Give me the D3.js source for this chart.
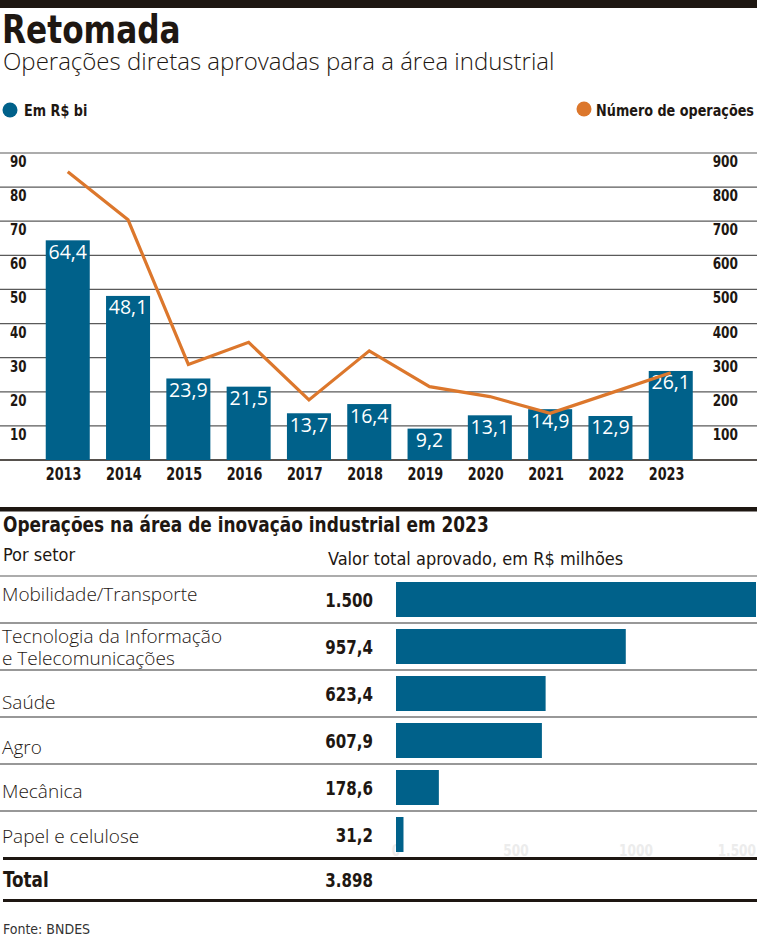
<!DOCTYPE html>
<html><head><meta charset="utf-8">
<script src="https://cdn.jsdelivr.net/npm/d3@7"></script>
<style>
html,body{margin:0;padding:0;background:#fff;}
svg{display:block;}
text{fill:#1e1712;}
.cond{font-family:'DejaVu Sans Condensed','DejaVu Sans',sans-serif;}
.reg{font-family:'Open Sans','Noto Sans',sans-serif;}
</style></head>
<body>
<svg id="c" width="757" height="938"></svg>
<script>
// ---- data ----
const years = ["2013","2014","2015","2016","2017","2018","2019","2020","2021","2022","2023"];
const valores = [64.4,48.1,23.9,21.5,13.7,16.4,9.2,13.1,14.9,12.9,26.1];
const operacoes = [845,704,280,345,176,320,215,186,137,196,256];
const leftTicks = [10,20,30,40,50,60,70,80,90];
const rightTicks = [100,200,300,400,500,600,700,800,900];

const setores = [["Mobilidade/Transporte"],["Tecnologia da Informação","e Telecomunicações"],["Saúde"],["Agro"],["Mecânica"],["Papel e celulose"]];
const setorValores = [1500,957.4,623.4,607.9,178.6,31.2];
const setorLabels = ["1.500","957,4","623,4","607,9","178,6","31,2"];
const totalLabel = "3.898";
const xTicks = [0,500,1000,1500];
const xTickLabels = ["0","500","1000","1.500"];

// ---- style / layout ----
const BLUE = "#00618a", ORANGE = "#dc772c", DARK = "#1e1712", GRID = "#5a5a5a";
const W = 757;
const svg = d3.select("#c");
const fmt = v => String(v).replace(".", ",");
const tr = (x,y,k) => `translate(${x},${y}) scale(${k},1)`;

// header
svg.append("rect").attr("x",0).attr("y",0).attr("width",W).attr("height",8).attr("fill",DARK);
svg.append("text").attr("class","cond").attr("transform",tr(2,43,0.89)).attr("font-size",39).attr("font-weight",700).text("Retomada");
svg.append("text").attr("class","reg").attr("x",3).attr("y",70).attr("font-size",24).attr("font-weight",300).text("Operações diretas aprovadas para a área industrial");

// legend
svg.append("circle").attr("cx",10).attr("cy",110).attr("r",7.5).attr("fill",BLUE);
svg.append("text").attr("class","cond").attr("transform",tr(24,116,0.89)).attr("font-size",16).attr("font-weight",700).text("Em R$ bi");
svg.append("circle").attr("cx",584).attr("cy",109).attr("r",7.5).attr("fill",ORANGE);
svg.append("text").attr("class","cond").attr("transform",tr(754,116,0.89)).attr("text-anchor","end").attr("font-size",16).attr("font-weight",700).text("Número de operações");

// top chart scales
const x = d3.scaleBand().domain(years).range([37.6,700.9]).paddingInner(0.27).paddingOuter(0.135);
const yL = d3.scaleLinear().domain([0,90]).range([460,153]);
const yR = d3.scaleLinear().domain([0,900]).range([460,153]);

// gridlines
const g = svg.append("g");
g.selectAll("line.grid").data(leftTicks).join("line")
  .attr("x1",0).attr("x2",W).attr("y1",d=>yL(d)).attr("y2",d=>yL(d))
  .attr("stroke",GRID).attr("stroke-width",1.2);
g.append("line").attr("x1",0).attr("x2",W).attr("y1",yL(0)).attr("y2",yL(0)).attr("stroke",DARK).attr("stroke-width",1.5);

// axis labels
g.selectAll("text.yl").data(leftTicks).join("text").attr("class","cond")
  .attr("transform",d=>tr(10,yL(d)+14,0.88)).attr("font-size",15).attr("font-weight",700).text(d=>d);
g.selectAll("text.yr").data(rightTicks).join("text").attr("class","cond")
  .attr("transform",d=>tr(738,yR(d)+14,0.9)).attr("text-anchor","end").attr("font-size",15).attr("font-weight",700).text(d=>d);

// bars
g.selectAll("rect.bar").data(years).join("rect")
  .attr("x",d=>x(d)).attr("width",x.bandwidth())
  .attr("y",(d,i)=>yL(valores[i])).attr("height",(d,i)=>yL(0)-yL(valores[i]))
  .attr("fill",BLUE);
g.selectAll("text.val").data(years).join("text").attr("class","reg")
  .attr("x",d=>x(d)+x.bandwidth()/2).attr("y",(d,i)=>yL(valores[i])+18.5)
  .attr("text-anchor","middle").attr("font-size",19.5).style("fill","#fff")
  .text((d,i)=>fmt(valores[i]));

// line
const line = d3.line().x((d,i)=>x(years[i])+x.bandwidth()/2).y(d=>yR(d));
g.append("path").datum(operacoes).attr("d",line).attr("fill","none")
  .attr("stroke",ORANGE).attr("stroke-width",3.2).attr("stroke-linejoin","miter");

// x labels
g.selectAll("text.yx").data(years).join("text").attr("class","cond")
  .attr("transform",d=>tr(x(d),480,0.84)).attr("font-size",17).attr("font-weight",700).text(d=>d);

// ---- bottom section ----
svg.append("rect").attr("x",0).attr("y",507).attr("width",W).attr("height",4.5).attr("fill",DARK);
svg.append("text").attr("class","cond").attr("transform",tr(3,532,0.92)).attr("font-size",20.5).attr("font-weight",700).text("Operações na área de inovação industrial em 2023");
svg.append("text").attr("class","cond").attr("x",3).attr("y",561).attr("font-size",18).text("Por setor");
svg.append("text").attr("class","cond").attr("x",328).attr("y",565).attr("font-size",18).text("Valor total aprovado, em R$ milhões");

const rowTop = 576, rowH = 47;
const labelDy = [25,20,39,37,34,32];
const xs = d3.scaleLinear().domain([0,1500]).range([396,756]);

const b = svg.append("g");
b.append("line").attr("x1",0).attr("x2",W).attr("y1",rowTop).attr("y2",rowTop).attr("stroke",GRID).attr("stroke-width",1.2);
b.selectAll("line.row").data(setores.slice(1)).join("line")
  .attr("x1",0).attr("x2",W).attr("y1",(d,i)=>rowTop+(i+1)*rowH).attr("y2",(d,i)=>rowTop+(i+1)*rowH)
  .attr("stroke","#333").attr("stroke-width",1.2);

// faint ticks
b.selectAll("text.xt").data(xTicks).join("text").attr("class","cond")
  .attr("transform",d=>tr(xs(d),856,0.9))
  .attr("text-anchor",(d,i)=>i===xTicks.length-1?"end":"middle")
  .attr("font-size",15).attr("font-weight",700).style("fill","#ececec")
  .text((d,i)=>xTickLabels[i]);

b.selectAll("rect.hb").data(setorValores).join("rect")
  .attr("x",xs(0)).attr("y",(d,i)=>rowTop+i*rowH+6)
  .attr("width",d=>xs(d)-xs(0)).attr("height",35).attr("fill",BLUE);

setores.forEach((lines,i)=>{
  const t = b.append("text").attr("class","reg").attr("x",2).attr("y",rowTop+i*rowH+labelDy[i]).attr("font-size",19).attr("font-weight",300);
  lines.forEach((l,j)=>t.append("tspan").attr("x",2).attr("dy",j?22:0).text(l));
});
b.selectAll("text.sv").data(setorLabels).join("text").attr("class","cond")
  .attr("transform",(d,i)=>tr(373,rowTop+i*rowH+31,0.86)).attr("text-anchor","end")
  .attr("font-size",19.5).attr("font-weight",700).text(d=>d);

b.append("line").attr("x1",3).attr("x2",W).attr("y1",858.5).attr("y2",858.5).attr("stroke",DARK).attr("stroke-width",3);
b.append("text").attr("class","cond").attr("transform",tr(3,887,0.85)).attr("font-size",22).attr("font-weight",700).text("Total");
b.append("text").attr("class","cond").attr("transform",tr(373,887,0.86)).attr("text-anchor","end").attr("font-size",19.5).attr("font-weight",700).text(totalLabel);
b.append("line").attr("x1",3).attr("x2",W).attr("y1",900.5).attr("y2",900.5).attr("stroke",DARK).attr("stroke-width",3);

svg.append("text").attr("class","cond").attr("x",3).attr("y",934).attr("font-size",14).style("fill","#333").text("Fonte: BNDES");
</script>
</body></html>
